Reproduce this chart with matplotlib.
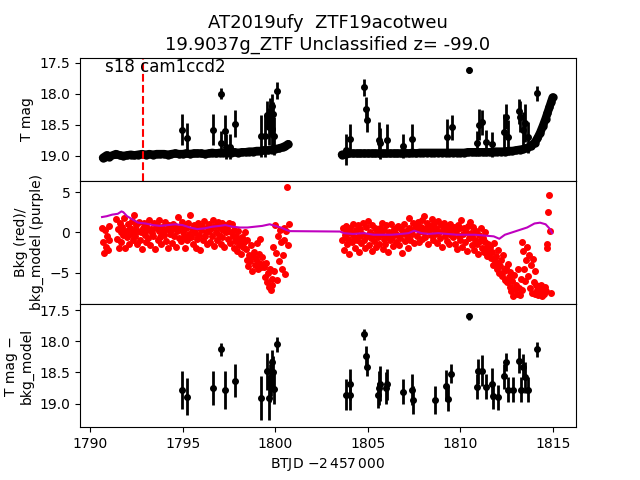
import numpy as np
import matplotlib
matplotlib.use('Agg')
import matplotlib.pyplot as plt

# --- panel 1: quiescent light curve (dense band), two orbits
band1_t = [1790.70, 1790.80, 1790.90, 1791.00, 1791.05,
           1791.40, 1791.60, 1791.80, 1792.00, 1792.20, 1792.40, 1792.60, 1792.80,
           1793.00, 1793.20, 1793.40, 1793.60, 1793.80, 1794.00, 1794.20, 1794.40,
           1794.60, 1794.80, 1795.00, 1795.20, 1795.40, 1795.60, 1795.80, 1796.00,
           1796.20, 1796.40, 1796.60, 1796.80, 1797.00, 1797.20, 1797.40, 1797.60,
           1797.80, 1798.00, 1798.20, 1798.40, 1798.60, 1798.80, 1799.00, 1799.20,
           1799.40, 1799.60, 1799.80, 1800.00, 1800.20, 1800.40, 1800.55, 1800.70]
band1_m = [19.03, 19.01, 18.99, 19.00, 19.01,
           18.97, 18.99, 19.00, 18.99, 18.98, 18.99, 18.98, 18.97,
           18.98, 18.97, 18.98, 18.97, 18.97, 18.97, 18.98, 18.97,
           18.96, 18.97, 18.97, 18.96, 18.97, 18.96, 18.96, 18.96,
           18.97, 18.96, 18.95, 18.96, 18.95, 18.95, 18.95, 18.95,
           18.94, 18.95, 18.94, 18.94, 18.93, 18.93, 18.92, 18.92,
           18.91, 18.91, 18.90, 18.89, 18.88, 18.86, 18.84, 18.81]

band2_t = [1803.60, 1803.80, 1804.00, 1804.20, 1804.40, 1804.60, 1804.80,
           1805.00, 1805.20, 1805.40, 1805.60, 1805.80, 1806.00, 1806.20,
           1806.40, 1806.60, 1806.80, 1807.00, 1807.20, 1807.40, 1807.60,
           1807.80, 1808.00, 1808.20, 1808.40, 1808.60, 1808.80, 1809.00,
           1809.20, 1809.40, 1809.60, 1809.80, 1810.00, 1810.20, 1810.40,
           1810.60, 1810.80, 1811.00, 1811.20, 1811.40, 1811.60, 1811.80,
           1812.00, 1812.20, 1812.40, 1812.60, 1812.80, 1813.00, 1813.20,
           1813.40, 1813.60, 1813.80, 1814.00, 1814.15, 1814.30, 1814.45,
           1814.60, 1814.70, 1814.80, 1814.90, 1814.98]
band2_m = [18.98, 18.97, 18.96, 18.96, 18.96, 18.96, 18.96,
           18.96, 18.96, 18.96, 18.96, 18.96, 18.96, 18.96,
           18.96, 18.96, 18.96, 18.95, 18.96, 18.95, 18.96,
           18.95, 18.95, 18.95, 18.95, 18.95, 18.95, 18.95,
           18.95, 18.95, 18.95, 18.95, 18.95, 18.95, 18.94,
           18.94, 18.94, 18.94, 18.94, 18.94, 18.94, 18.93,
           18.93, 18.93, 18.93, 18.92, 18.92, 18.91, 18.90,
           18.89, 18.87, 18.84, 18.79, 18.72, 18.63, 18.52,
           18.40, 18.31, 18.22, 18.13, 18.06]

# --- panel 1: significant detections
det1_t = [1794.98, 1795.24, 1796.64, 1797.09, 1797.09, 1797.27, 1797.35, 1797.58,
          1797.83, 1799.25, 1799.45, 1799.58, 1799.67, 1799.72, 1799.79, 1799.85,
          1799.85, 1799.90, 1799.92, 1800.11, 1803.82, 1804.05, 1804.81, 1804.92,
          1804.97, 1805.60, 1805.65, 1806.05, 1806.92, 1807.37, 1809.26, 1809.53,
          1810.48, 1810.88, 1811.00, 1811.15, 1811.38, 1811.71, 1812.35, 1812.45,
          1812.57, 1813.15, 1813.22, 1813.36, 1813.50, 1813.66, 1814.12]
det1_m = [18.58, 18.71, 18.58, 18.00, 18.80, 18.60, 18.85, 18.85,
          18.48, 18.68, 18.68, 18.34, 18.53, 18.37, 18.45, 18.20,
          18.56, 18.33, 18.68, 17.95, 18.90, 18.73, 17.90, 18.24,
          18.42, 18.74, 18.80, 18.74, 18.84, 18.73, 18.70, 18.54,
          17.62, 18.80, 18.50, 18.46, 18.78, 18.81, 18.62, 18.37,
          18.70, 18.28, 18.37, 18.58, 18.47, 18.70, 17.99]
det1_e = [0.25, 0.24, 0.25, 0.09, 0.20, 0.25, 0.20, 0.20,
          0.22, 0.33, 0.33, 0.22, 0.30, 0.30, 0.25, 0.20,
          0.30, 0.20, 0.30, 0.14, 0.25, 0.25, 0.13, 0.18,
          0.20, 0.28, 0.25, 0.25, 0.20, 0.25, 0.30, 0.20,
          0.05, 0.20, 0.25, 0.20, 0.20, 0.20, 0.30, 0.20,
          0.28, 0.20, 0.25, 0.28, 0.30, 0.25, 0.12]

# --- panel 2: background (red) and background model (purple)
bkgA_start = 1790.65
bkgA = [0.5, -1.2, -2.6, 0.3, -1.8, -0.4, -2.2, 0.8, -0.9]
bkgB_start = 1791.40
bkgB = [1.6, -0.8, 0.4, -1.9, 1.2, 0.1, -1.2, 0.7, -0.3, 1.8, -2.0, 0.2, -0.6, 1.0, -1.5, 0.5, -0.2, 1.4, -1.0, 0.3,
        2.2, -0.5, 0.9, -1.4, 0.2, 1.3, -0.9, 0.0, -2.1, 0.6, 1.1, -0.3, -1.2, 0.8, 0.3, -0.7, 1.5, -1.6, 0.4, -0.1,
        -0.4, 1.2, -2.1, 0.5, 0.9, -1.0, 0.2, 1.5, -0.6, -1.5, 0.7, 0.1, -0.3, 1.3, -1.1, 0.4, -2.0, 0.9, -0.2, 0.6,
        0.3, -1.3, 1.0, -0.5, 0.8, -1.8, 0.2, 1.9, -0.7, 0.5, -1.1, 1.3, 0.0, -0.4, 0.9, -2.0, 0.6, -0.9, 1.1, -0.2,
        2.2, -0.6, 0.4, -1.5, 0.9, -0.1, -1.9, 0.6, -0.8, 1.2, -0.3, -2.2, 0.3, 0.8, -1.0, 1.4, -0.5, 0.1, -1.4, 0.7,
        0.2, 1.0, -1.2, 0.5, -0.4, 1.5, -1.7, 0.8, 0.0, -0.9, 1.3, -0.3, 0.6, -1.4, 1.1, -0.6, 0.3, -1.8, 0.9, 0.1,
        0.6, -0.8, 1.2, -1.3, 0.1, 1.0, -0.5, -1.9, 0.3, -1.1, -0.4, -2.3, 0.2, -1.6, -0.9, -2.7, -0.6, -1.8, -1.2, 0.1,
        -2.1, -3.4, -1.0, -4.2, -2.8, -3.6, -1.6, -4.8, -3.0, -2.4, -4.0, -3.3, -1.3, -4.5, -2.7, -3.8, -0.8, -4.3, -3.1, -3.9,
        -4.3, -5.6, -3.8, -6.2, -5.0, -6.8, -4.6, -7.2, -5.8, -6.5, -1.8, -4.8, 0.9, -2.6, -5.9, -0.5, -3.5, 0.3, -1.2, -4.6,
        -2.8, 0.6, -0.9, -5.2, 0.2, 5.6, -1.6, 1.0]
bkgC_start = 1803.60
bkgC = [-0.9, 0.5, -2.2, -0.3, 0.8, -1.5, 0.2, -0.8, -2.7, 0.6, -0.1, -1.2, 1.0, -0.6, -1.9, 0.3, -1.0, 0.9, -0.4, -2.4,
        0.4, -1.3, -0.2, 1.1, -0.9, -2.0, 0.7, -0.5, 1.4, -1.6, 0.1, -0.7, -2.3, 0.9, -0.3, -1.1, 0.5, -1.8, 0.2, -0.6,
        -1.4, 0.6, -0.2, 1.2, -2.1, -0.8, 0.3, -1.5, 0.9, -0.4, -2.5, 0.1, -1.0, 1.0, -0.6, -1.7, 0.4, -0.1, -1.2, 0.7,
        -0.3, 0.8, -1.6, -0.7, 0.4, -2.6, -0.1, 1.0, -1.1, 0.2, -0.5, -1.9, 0.6, 1.8, -0.9, 0.3, -0.2, 1.1, -1.3, 0.5,
        0.9, -0.4, 1.3, -1.2, 0.2, 0.7, -0.8, 1.5, 0.0, 2.0, -0.6, 0.5, 1.2, -1.4, 0.3, 0.8, -0.3, 1.6, -0.9, 0.4,
        1.1, -0.2, 0.6, -1.3, 1.4, 0.1, -0.7, 0.9, -1.8, 0.3, 1.2, -0.5, 0.5, -1.1, 0.8, 0.0, -1.5, 1.0, -0.3, 0.4,
        -0.6, 0.7, -1.5, 0.2, -2.1, 0.9, -0.4, -1.0, 0.5, 1.5, -1.8, -0.2, 0.6, -1.2, 0.1, -2.3, 0.8, -0.7, 1.3, -0.1,
        -0.5, -1.6, 0.7, -2.2, -0.9, 0.2, -1.4, -2.7, -0.3, -1.1, 0.5, -1.9, -0.7, -2.5, -1.2, 0.0, -2.0, -3.0, -1.5, -2.4,
        -1.8, -3.2, -2.5, -4.0, -1.3, -3.6, -2.9, -4.6, -3.8, -2.2, -5.0, -4.2, -3.4, -5.4, -2.8, -4.8, -5.9, -4.4, -6.2, -3.9,
        -5.6, -6.8, -4.9, -7.3, -6.1, -7.9, -5.3, -7.0, -6.5, -7.6, -4.6, -6.9, -7.8, -5.8, -1.2, -7.2, -2.3, -4.5, -6.0, -3.4,
        -1.8, -5.4, -2.8, -6.9, -4.0, -7.5, -3.3, -6.2, -4.8, -7.7, -6.6, -7.2, -7.8, -6.9, -7.4, -6.5, -7.9, -7.1, -7.6, -6.8,
        -7.3, -2.0, -1.4, 2.5, 4.6, 0.2, -7.5]
cadence = 0.05  # days between background samples

model_t = [1790.65, 1790.90, 1791.20, 1791.50, 1791.70, 1791.80, 1792.00, 1792.30,
           1792.60, 1793.00, 1793.40, 1793.80, 1794.20, 1794.60, 1795.00, 1795.40,
           1795.80, 1796.20, 1796.60, 1797.00, 1797.30, 1797.70, 1798.10, 1798.50,
           1798.90, 1799.30, 1799.70, 1800.00, 1800.30, 1800.60, 1800.80, 1803.50,
           1803.70, 1804.20, 1804.80, 1805.30, 1805.80, 1806.30, 1806.80, 1807.20,
           1807.50, 1807.90, 1808.30, 1808.80, 1809.30, 1809.80, 1810.30, 1810.80,
           1811.30, 1811.80, 1812.10, 1812.40, 1812.80, 1813.20, 1813.60, 1814.00,
           1814.30, 1814.60, 1814.80, 1814.95]
model_v = [1.9, 2.0, 2.2, 2.3, 2.6, 2.5, 2.0, 1.6,
           1.2, 1.1, 0.9, 0.8, 0.9, 1.0, 0.9, 0.6,
           0.4, 0.5, 0.7, 0.8, 0.9, 0.7, 0.6, 0.6,
           0.7, 0.8, 1.0, 0.8, 0.6, 0.3, 0.15, 0.1,
           -0.1, -0.2, -0.1, -0.3, -0.3, -0.3, -0.2, -0.1,
           0.2, -0.1, -0.2, -0.1, -0.2, -0.3, -0.3, -0.3,
           -0.4, -0.5, -0.8, -0.3, 0.0, 0.3, 0.6, 1.1,
           1.2, 1.0, 0.5, -0.1]

# --- panel 3: detections after background subtraction
det3_t = [1794.98, 1795.24, 1796.64, 1797.09, 1797.27, 1797.83, 1799.25, 1799.58,
          1799.67, 1799.72, 1799.79, 1799.85, 1799.90, 1799.92, 1800.11, 1803.82,
          1804.05, 1804.05, 1804.81, 1804.92, 1804.97, 1805.55, 1805.60, 1805.65,
          1806.00, 1806.05, 1806.92, 1807.37, 1807.42, 1808.63, 1809.22, 1809.33,
          1809.48, 1810.48, 1810.88, 1810.97, 1811.15, 1811.38, 1811.71, 1811.76,
          1812.05, 1812.35, 1812.45, 1812.57, 1812.86, 1813.15, 1813.26, 1813.36,
          1813.50, 1813.66, 1814.12]
det3_m = [18.78, 18.89, 18.75, 18.13, 18.78, 18.63, 18.91, 18.48,
          18.91, 18.67, 18.58, 18.34, 18.49, 18.76, 18.05, 18.86,
          18.69, 18.86, 17.89, 18.23, 18.41, 18.87, 18.75, 18.68,
          18.75, 18.69, 18.81, 18.78, 18.94, 18.94, 18.71, 18.92,
          18.52, 17.60, 18.73, 18.48, 18.47, 18.73, 18.68, 18.88,
          18.90, 18.56, 18.33, 18.78, 18.78, 18.31, 18.78, 18.41,
          18.58, 18.78, 18.13]
det3_e = [0.30, 0.30, 0.28, 0.10, 0.30, 0.27, 0.35, 0.30,
          0.35, 0.30, 0.30, 0.20, 0.25, 0.25, 0.12, 0.25,
          0.25, 0.25, 0.09, 0.15, 0.15, 0.20, 0.28, 0.28,
          0.25, 0.25, 0.20, 0.25, 0.22, 0.22, 0.25, 0.20,
          0.15, 0.06, 0.20, 0.20, 0.25, 0.20, 0.25, 0.20,
          0.20, 0.20, 0.15, 0.20, 0.20, 0.20, 0.20, 0.20,
          0.25, 0.20, 0.12]

sector_label = 's18 cam1ccd2'
discovery_t = 1792.86


def bkg_times(start, vals):
    return start + cadence * np.arange(len(vals))


fig, (ax1, ax2, ax3) = plt.subplots(3, 1, sharex=True, figsize=(6.4, 4.8), dpi=100)
fig.subplots_adjust(hspace=0)

# top panel
for bt, bm in [(band1_t, band1_m), (band2_t, band2_m)]:
    ax1.plot(bt, bm, 'o-', color='k', ms=5, lw=6, solid_capstyle='round')
ax1.errorbar(det1_t, det1_m, yerr=det1_e, fmt='o', color='k', ms=4, elinewidth=2)
ax1.axvline(discovery_t, color='r', ls='--', lw=1.5)
ax1.text(0.05, 1.0, sector_label, transform=ax1.transAxes, fontsize=12,
         ha='left', va='top')
ax1.set_ylim(19.40, 17.42)
ax1.set_ylabel('T mag')
ax1.set_title('AT2019ufy  ZTF19acotweu\n19.9037g_ZTF Unclassified z= -99.0', fontsize=13)

# middle panel
for start, vals in [(bkgA_start, bkgA), (bkgB_start, bkgB), (bkgC_start, bkgC)]:
    ax2.plot(bkg_times(start, vals), vals, 'o', color='r', ms=4)
ax2.plot(model_t, model_v, '-', color='m', lw=1.5)
ax2.set_ylim(-8.9, 6.4)
ax2.set_ylabel('Bkg (red)/\nbkg_model (purple)')

# bottom panel
ax3.errorbar(det3_t, det3_m, yerr=det3_e, fmt='o', color='k', ms=4, elinewidth=2)
ax3.set_ylim(19.38, 17.40)
ax3.set_ylabel('T mag \u2212\nbkg_model')
ax3.set_xlabel(r'BTJD $-2\,457\,000$')

for ax in (ax1, ax2):
    ax.tick_params(axis='x', bottom=False, labelbottom=False)
ax3.set_xlim(1789.46, 1816.24)
ax3.set_xticks([1790, 1795, 1800, 1805, 1810, 1815])

fig.savefig('out.png', dpi=100)
